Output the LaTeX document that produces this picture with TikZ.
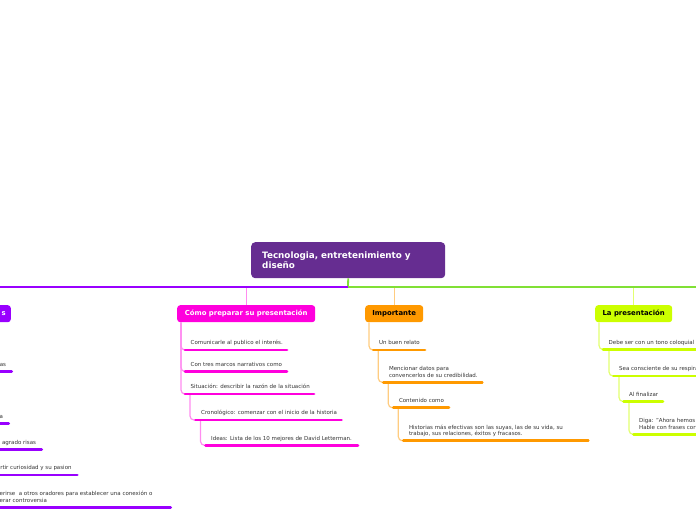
\documentclass[tikz,border=0pt]{standalone}
\usepackage{fontspec}
\setmainfont{DejaVu Sans}
\definecolor{rootc}{HTML}{662D91}
\definecolor{purp}{HTML}{9900FF}
\definecolor{pinkc}{HTML}{FF00DD}
\definecolor{pinkl}{HTML}{FF8CF0}
\definecolor{orc}{HTML}{FF9900}
\definecolor{orl}{HTML}{FFCC80}
\definecolor{grc}{HTML}{CCFF00}
\definecolor{grl}{HTML}{E2FF70}
\definecolor{topg}{HTML}{80E035}
\definecolor{txt}{HTML}{333333}
\begin{document}
\begin{tikzpicture}[x=1pt,y=-1pt,
  rootbox/.style={fill=rootc, text=white, rounded corners=4pt, anchor=north west, minimum width=194pt, minimum height=36pt, inner xsep=11pt, align=left, text width=172pt, font=\fontsize{8.8}{10.7}\selectfont\bfseries},
  branch/.style={rounded corners=3pt, anchor=north west, minimum height=17pt, inner ysep=0pt, font=\fontsize{6.9}{8}\selectfont\bfseries},
  item/.style={anchor=south west, inner xsep=5.5pt, inner ysep=0pt, text depth=5pt, align=left, text=txt, font=\fontsize{5.5}{6.5}\selectfont},
  itemr/.style={item, anchor=south east},
  ul/.style={line width=2.8pt, line cap=round},
  conn/.style={line width=1.2pt, rounded corners=4pt},
  topline/.style={line width=1.8pt},
  vconn/.style={line width=1.3pt}
]
\useasboundingbox (0,0) rectangle (696,520);
\clip (0,0) rectangle (696,520);

% root
\node[rootbox] (root) at (251,242) {Tecnologia, entretenimiento y\\diseño};
\coordinate (hub) at (348,287);
\coordinate (lend) at (-5,287);
\coordinate (rend) at (701,287);

% branches
\node[branch, fill=purp, text=white, anchor=north east, text width=70pt, align=right, inner xsep=5pt] (pu) at (11,305) {s};
\node[branch, fill=pinkc, text=white, minimum width=138pt] (pk) at (177,305) {Cómo preparar su presentación};
\node[branch, fill=orc, text=black, minimum width=58pt] (im) at (365,305) {Importante};
\node[branch, fill=grc, text=black, minimum width=77pt] (lp) at (595,305) {La presentación};

\draw[vconn, pinkl] (pk.north) -- (pk.north |- hub);
\draw[vconn, orl] (im.north) -- (im.north |- hub);
\draw[vconn, grl] (lp.north) -- (lp.north |- hub);
\draw[topline, topg] (root.south) -- (hub) -- (rend);
\draw[topline, purp] (hub) -- (lend);

% pink items
\node[item] (c1) at (185,350) {Comunicarle al publico el interés.};
\node[item] (c2) at (185,371.5) {Con tres marcos narrativos como};
\node[item] (c3) at (185,394) {Situación: describir la razón de la situación};
\node[item] (c4) at (195.5,420) {Cronológico: comenzar con el inicio de la historia};
\node[item] (c5) at (205.5,445.3) {Ideas: Lista de los 10 mejores de David Letterman.};
\draw[conn, pinkl] ([xshift=4pt]pk.south west) |- (c1.south west);
\draw[conn, pinkl] ([xshift=4pt]pk.south west) |- (c2.south west);
\draw[conn, pinkl] ([xshift=4pt]pk.south west) |- (c3.south west);
\draw[conn, pinkl] ([xshift=5pt]c3.south west) |- (c4.south west);
\draw[conn, pinkl] ([xshift=5pt]c4.south west) |- (c5.south west);
\draw[ul, pinkc] (c1.south west) -- ++(102,0);
\draw[ul, pinkc] (c2.south west) -- ++(102,0);
\draw[ul, pinkc] (c3.south west) -- ++(129,0);
\draw[ul, pinkc] (c4.south west) -- ++(146,0);
\draw[ul, pinkc] (c5.south west) -- ++(152.5,0);

% orange items
\node[item] (o1) at (373.3,350) {Un buen relato};
\node[item] (o2) at (383.3,382.3) {Mencionar datos para\\convencerlos de su credibilidad.};
\node[item] (o3) at (393.3,407.7) {Contenido como};
\node[item] (o4) at (403.3,440.7) {Historias más efectivas son las suyas, las de su vida, su\\trabajo, sus relaciones, éxitos y fracasos.};
\draw[conn, orl] ([xshift=4pt]im.south west) |- (o1.south west);
\draw[conn, orl] ([xshift=5pt]o1.south west) |- (o2.south west);
\draw[conn, orl] ([xshift=5pt]o2.south west) |- (o3.south west);
\draw[conn, orl] ([xshift=5pt]o3.south west) |- (o4.south west);
\draw[ul, orc] (o1.south west) -- ++(51.7,0);
\draw[ul, orc] (o2.south west) -- ++(99,0);
\draw[ul, orc] (o3.south west) -- ++(55.7,0);
\draw[ul, orc] (o4.south west) -- ++(185,0);

% green items
\node[item] (g1) at (603,349.5) {Debe ser con un tono coloquial};
\node[item] (g2) at (613.5,376) {Sea consciente de su respira};
\node[item] (g3) at (623.5,401.5) {Al finalizar};
\node[item] (g4) at (633.5,434.3) {Diga: "Ahora hemos\\Hable con frases cort};
\draw[conn, grl] ([xshift=4pt]lp.south west) |- (g1.south west);
\draw[conn, grl] ([xshift=6pt]g1.south west) |- (g2.south west);
\draw[conn, grl] ([xshift=5.5pt]g2.south west) |- (g3.south west);
\draw[conn, grl] ([xshift=5.5pt]g3.south west) |- (g4.south west);
\draw[ul, grc] (g1.south west) -- ++(110,0);
\draw[ul, grc] (g2.south west) -- ++(100,0);
\draw[ul, grc] (g3.south west) -- ++(39.5,0);
\draw[ul, grc] (g4.south west) -- ++(80,0);

% purple (left) items
\node[itemr] (l1) at (11.7,371.7) {as};
\node[itemr] (l2) at (8.7,423.3) {a};
\node[itemr] (l3) at (41.7,449.3) {agrado risas};
\node[itemr] (l4) at (77.3,475) {rtir curiosidad y su pasion};
\node[item] (l5) at (-6,507.3) {erirse~ a otros oradores para establecer una conexión o\\erar controversia};
\draw[ul, purp] (l1.south east) -- ++(-30,0);
\draw[ul, purp] (l2.south east) -- ++(-30,0);
\draw[ul, purp] (l3.south east) -- ++(-60,0);
\draw[ul, purp] (l4.south east) -- ++(-90,0);
\draw[ul, purp] (l5.south west) -- ++(176.7,0);
\end{tikzpicture}
\end{document}
